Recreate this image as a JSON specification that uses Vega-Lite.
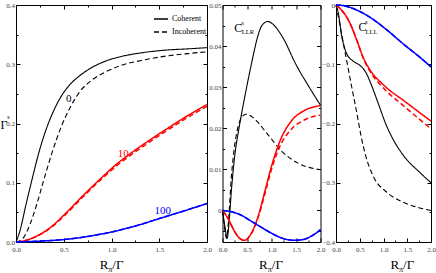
{
"$schema":"https://vega.github.io/schema/vega-lite/v6.json",
"padding":{"left":0,"top":1,"right":0,"bottom":0},
"spacing":15.5,
"bounds":"flush",
"config":{"view":{"stroke":null},"axis":{"grid":false,"domainColor":"#000","domainWidth":1,"tickColor":"#000","tickWidth":1,"labelFont":"Liberation Serif","labelFontSize":7,"labelColor":"#444","labelFlush":false,"labelOverlap":false,"title":null}},
"datasets":{
"curves":[
{"p":"a","c":"0","t":"Coherent","x":0,"y":0},{"p":"a","c":"0","t":"Coherent","x":0.04,"y":0.018},{"p":"a","c":"0","t":"Coherent","x":0.1,"y":0.06},{"p":"a","c":"0","t":"Coherent","x":0.164,"y":0.103},{"p":"a","c":"0","t":"Coherent","x":0.25,"y":0.157},{"p":"a","c":"0","t":"Coherent","x":0.32,"y":0.192},{"p":"a","c":"0","t":"Coherent","x":0.39,"y":0.22},{"p":"a","c":"0","t":"Coherent","x":0.47,"y":0.245},{"p":"a","c":"0","t":"Coherent","x":0.55,"y":0.263},{"p":"a","c":"0","t":"Coherent","x":0.67,"y":0.281},{"p":"a","c":"0","t":"Coherent","x":0.8,"y":0.295},{"p":"a","c":"0","t":"Coherent","x":0.95,"y":0.306},{"p":"a","c":"0","t":"Coherent","x":1.1,"y":0.313},{"p":"a","c":"0","t":"Coherent","x":1.3,"y":0.319},{"p":"a","c":"0","t":"Coherent","x":1.58,"y":0.324},{"p":"a","c":"0","t":"Coherent","x":1.8,"y":0.326},{"p":"a","c":"0","t":"Coherent","x":2,"y":0.328},
{"p":"a","c":"0","t":"Incoherent","x":0,"y":0},{"p":"a","c":"0","t":"Incoherent","x":0.04,"y":0.002},{"p":"a","c":"0","t":"Incoherent","x":0.076,"y":0.007},{"p":"a","c":"0","t":"Incoherent","x":0.147,"y":0.03},{"p":"a","c":"0","t":"Incoherent","x":0.22,"y":0.065},{"p":"a","c":"0","t":"Incoherent","x":0.286,"y":0.102},{"p":"a","c":"0","t":"Incoherent","x":0.38,"y":0.152},{"p":"a","c":"0","t":"Incoherent","x":0.47,"y":0.193},{"p":"a","c":"0","t":"Incoherent","x":0.57,"y":0.228},{"p":"a","c":"0","t":"Incoherent","x":0.67,"y":0.254},{"p":"a","c":"0","t":"Incoherent","x":0.8,"y":0.274},{"p":"a","c":"0","t":"Incoherent","x":0.95,"y":0.288},{"p":"a","c":"0","t":"Incoherent","x":1.1,"y":0.298},{"p":"a","c":"0","t":"Incoherent","x":1.3,"y":0.306},{"p":"a","c":"0","t":"Incoherent","x":1.58,"y":0.314},{"p":"a","c":"0","t":"Incoherent","x":1.8,"y":0.318},{"p":"a","c":"0","t":"Incoherent","x":2,"y":0.321},
{"p":"a","c":"10","t":"Coherent","x":0,"y":0},{"p":"a","c":"10","t":"Coherent","x":0.1,"y":0.0025},{"p":"a","c":"10","t":"Coherent","x":0.18,"y":0.0073},{"p":"a","c":"10","t":"Coherent","x":0.356,"y":0.024},{"p":"a","c":"10","t":"Coherent","x":0.53,"y":0.05},{"p":"a","c":"10","t":"Coherent","x":0.7,"y":0.078},{"p":"a","c":"10","t":"Coherent","x":0.88,"y":0.106},{"p":"a","c":"10","t":"Coherent","x":1.05,"y":0.131},{"p":"a","c":"10","t":"Coherent","x":1.23,"y":0.153},{"p":"a","c":"10","t":"Coherent","x":1.4,"y":0.172},{"p":"a","c":"10","t":"Coherent","x":1.58,"y":0.191},{"p":"a","c":"10","t":"Coherent","x":1.79,"y":0.2125},{"p":"a","c":"10","t":"Coherent","x":2,"y":0.232},
{"p":"a","c":"10","t":"Incoherent","x":0,"y":0},{"p":"a","c":"10","t":"Incoherent","x":0.1,"y":0.0025},{"p":"a","c":"10","t":"Incoherent","x":0.18,"y":0.007},{"p":"a","c":"10","t":"Incoherent","x":0.356,"y":0.023},{"p":"a","c":"10","t":"Incoherent","x":0.53,"y":0.048},{"p":"a","c":"10","t":"Incoherent","x":0.7,"y":0.076},{"p":"a","c":"10","t":"Incoherent","x":0.88,"y":0.104},{"p":"a","c":"10","t":"Incoherent","x":1.05,"y":0.128},{"p":"a","c":"10","t":"Incoherent","x":1.23,"y":0.15},{"p":"a","c":"10","t":"Incoherent","x":1.4,"y":0.169},{"p":"a","c":"10","t":"Incoherent","x":1.58,"y":0.188},{"p":"a","c":"10","t":"Incoherent","x":1.79,"y":0.2095},{"p":"a","c":"10","t":"Incoherent","x":2,"y":0.229},
{"p":"a","c":"100","t":"Coherent","x":0,"y":0},{"p":"a","c":"100","t":"Coherent","x":0.25,"y":0.0015},{"p":"a","c":"100","t":"Coherent","x":0.53,"y":0.0046},{"p":"a","c":"100","t":"Coherent","x":0.88,"y":0.013},{"p":"a","c":"100","t":"Coherent","x":1.05,"y":0.0186},{"p":"a","c":"100","t":"Coherent","x":1.25,"y":0.027},{"p":"a","c":"100","t":"Coherent","x":1.51,"y":0.04},{"p":"a","c":"100","t":"Coherent","x":1.75,"y":0.052},{"p":"a","c":"100","t":"Coherent","x":2,"y":0.065},
{"p":"a","c":"100","t":"Incoherent","x":0,"y":0},{"p":"a","c":"100","t":"Incoherent","x":0.25,"y":0.0015},{"p":"a","c":"100","t":"Incoherent","x":0.53,"y":0.0046},{"p":"a","c":"100","t":"Incoherent","x":0.88,"y":0.013},{"p":"a","c":"100","t":"Incoherent","x":1.05,"y":0.0186},{"p":"a","c":"100","t":"Incoherent","x":1.25,"y":0.027},{"p":"a","c":"100","t":"Incoherent","x":1.51,"y":0.04},{"p":"a","c":"100","t":"Incoherent","x":1.75,"y":0.052},{"p":"a","c":"100","t":"Incoherent","x":2,"y":0.065},
{"p":"b","c":"0","t":"Coherent","x":0,"y":0},{"p":"b","c":"0","t":"Coherent","x":0.05,"y":-0.004},{"p":"b","c":"0","t":"Coherent","x":0.095,"y":-0.0068},{"p":"b","c":"0","t":"Coherent","x":0.14,"y":-0.002},{"p":"b","c":"0","t":"Coherent","x":0.18,"y":0.0046},{"p":"b","c":"0","t":"Coherent","x":0.245,"y":0.0128},{"p":"b","c":"0","t":"Coherent","x":0.35,"y":0.0209},{"p":"b","c":"0","t":"Coherent","x":0.48,"y":0.0292},{"p":"b","c":"0","t":"Coherent","x":0.6,"y":0.0362},{"p":"b","c":"0","t":"Coherent","x":0.7,"y":0.0415},{"p":"b","c":"0","t":"Coherent","x":0.78,"y":0.0445},{"p":"b","c":"0","t":"Coherent","x":0.85,"y":0.0456},{"p":"b","c":"0","t":"Coherent","x":0.92,"y":0.046},{"p":"b","c":"0","t":"Coherent","x":1.0,"y":0.0456},{"p":"b","c":"0","t":"Coherent","x":1.1,"y":0.0444},{"p":"b","c":"0","t":"Coherent","x":1.23,"y":0.0421},{"p":"b","c":"0","t":"Coherent","x":1.5,"y":0.0355},{"p":"b","c":"0","t":"Coherent","x":1.78,"y":0.0298},{"p":"b","c":"0","t":"Coherent","x":2,"y":0.0256},
{"p":"b","c":"0","t":"Incoherent","x":0,"y":0},{"p":"b","c":"0","t":"Incoherent","x":0.04,"y":-0.004},{"p":"b","c":"0","t":"Incoherent","x":0.08,"y":-0.0068},{"p":"b","c":"0","t":"Incoherent","x":0.12,"y":-0.003},{"p":"b","c":"0","t":"Incoherent","x":0.18,"y":0.008},{"p":"b","c":"0","t":"Incoherent","x":0.25,"y":0.016},{"p":"b","c":"0","t":"Incoherent","x":0.31,"y":0.02},{"p":"b","c":"0","t":"Incoherent","x":0.4,"y":0.0228},{"p":"b","c":"0","t":"Incoherent","x":0.48,"y":0.0234},{"p":"b","c":"0","t":"Incoherent","x":0.6,"y":0.0228},{"p":"b","c":"0","t":"Incoherent","x":0.72,"y":0.0215},{"p":"b","c":"0","t":"Incoherent","x":0.85,"y":0.0196},{"p":"b","c":"0","t":"Incoherent","x":0.99,"y":0.0175},{"p":"b","c":"0","t":"Incoherent","x":1.2,"y":0.0145},{"p":"b","c":"0","t":"Incoherent","x":1.54,"y":0.0115},{"p":"b","c":"0","t":"Incoherent","x":2,"y":0.0099},
{"p":"b","c":"10","t":"Coherent","x":0,"y":0},{"p":"b","c":"10","t":"Coherent","x":0.11,"y":-0.0019},{"p":"b","c":"10","t":"Coherent","x":0.245,"y":-0.0051},{"p":"b","c":"10","t":"Coherent","x":0.35,"y":-0.0068},{"p":"b","c":"10","t":"Coherent","x":0.45,"y":-0.0073},{"p":"b","c":"10","t":"Coherent","x":0.55,"y":-0.0063},{"p":"b","c":"10","t":"Coherent","x":0.72,"y":-0.0017},{"p":"b","c":"10","t":"Coherent","x":0.86,"y":0.0044},{"p":"b","c":"10","t":"Coherent","x":0.99,"y":0.0103},{"p":"b","c":"10","t":"Coherent","x":1.16,"y":0.0165},{"p":"b","c":"10","t":"Coherent","x":1.4,"y":0.0217},{"p":"b","c":"10","t":"Coherent","x":1.67,"y":0.0243},{"p":"b","c":"10","t":"Coherent","x":2,"y":0.0255},
{"p":"b","c":"10","t":"Incoherent","x":0,"y":0},{"p":"b","c":"10","t":"Incoherent","x":0.11,"y":-0.0019},{"p":"b","c":"10","t":"Incoherent","x":0.245,"y":-0.0051},{"p":"b","c":"10","t":"Incoherent","x":0.35,"y":-0.0068},{"p":"b","c":"10","t":"Incoherent","x":0.45,"y":-0.0073},{"p":"b","c":"10","t":"Incoherent","x":0.55,"y":-0.0064},{"p":"b","c":"10","t":"Incoherent","x":0.72,"y":-0.002},{"p":"b","c":"10","t":"Incoherent","x":0.86,"y":0.0038},{"p":"b","c":"10","t":"Incoherent","x":0.99,"y":0.0096},{"p":"b","c":"10","t":"Incoherent","x":1.16,"y":0.0153},{"p":"b","c":"10","t":"Incoherent","x":1.4,"y":0.0197},{"p":"b","c":"10","t":"Incoherent","x":1.67,"y":0.022},{"p":"b","c":"10","t":"Incoherent","x":2,"y":0.0232},
{"p":"b","c":"100","t":"Coherent","x":0,"y":0},{"p":"b","c":"100","t":"Coherent","x":0.31,"y":-0.0008},{"p":"b","c":"100","t":"Coherent","x":0.65,"y":-0.0031},{"p":"b","c":"100","t":"Coherent","x":0.99,"y":-0.0055},{"p":"b","c":"100","t":"Coherent","x":1.2,"y":-0.0067},{"p":"b","c":"100","t":"Coherent","x":1.47,"y":-0.0073},{"p":"b","c":"100","t":"Coherent","x":1.65,"y":-0.0071},{"p":"b","c":"100","t":"Coherent","x":1.81,"y":-0.0063},{"p":"b","c":"100","t":"Coherent","x":2,"y":-0.0047},
{"p":"b","c":"100","t":"Incoherent","x":0,"y":0},{"p":"b","c":"100","t":"Incoherent","x":0.31,"y":-0.0008},{"p":"b","c":"100","t":"Incoherent","x":0.65,"y":-0.0031},{"p":"b","c":"100","t":"Incoherent","x":0.99,"y":-0.0055},{"p":"b","c":"100","t":"Incoherent","x":1.2,"y":-0.0067},{"p":"b","c":"100","t":"Incoherent","x":1.47,"y":-0.0073},{"p":"b","c":"100","t":"Incoherent","x":1.65,"y":-0.0071},{"p":"b","c":"100","t":"Incoherent","x":1.81,"y":-0.0063},{"p":"b","c":"100","t":"Incoherent","x":2,"y":-0.0047},
{"p":"c","c":"0","t":"Coherent","x":0,"y":0},{"p":"c","c":"0","t":"Coherent","x":0.05,"y":-0.014},{"p":"c","c":"0","t":"Coherent","x":0.12,"y":-0.052},{"p":"c","c":"0","t":"Coherent","x":0.225,"y":-0.082},{"p":"c","c":"0","t":"Coherent","x":0.365,"y":-0.095},{"p":"c","c":"0","t":"Coherent","x":0.505,"y":-0.102},{"p":"c","c":"0","t":"Coherent","x":0.63,"y":-0.114},{"p":"c","c":"0","t":"Coherent","x":0.75,"y":-0.136},{"p":"c","c":"0","t":"Coherent","x":0.88,"y":-0.164},{"p":"c","c":"0","t":"Coherent","x":1.07,"y":-0.205},{"p":"c","c":"0","t":"Coherent","x":1.21,"y":-0.228},{"p":"c","c":"0","t":"Coherent","x":1.42,"y":-0.254},{"p":"c","c":"0","t":"Coherent","x":1.77,"y":-0.283},{"p":"c","c":"0","t":"Coherent","x":2,"y":-0.3},
{"p":"c","c":"0","t":"Incoherent","x":0,"y":0},{"p":"c","c":"0","t":"Incoherent","x":0.05,"y":-0.02},{"p":"c","c":"0","t":"Incoherent","x":0.12,"y":-0.05},{"p":"c","c":"0","t":"Incoherent","x":0.225,"y":-0.094},{"p":"c","c":"0","t":"Incoherent","x":0.33,"y":-0.138},{"p":"c","c":"0","t":"Incoherent","x":0.44,"y":-0.183},{"p":"c","c":"0","t":"Incoherent","x":0.53,"y":-0.222},{"p":"c","c":"0","t":"Incoherent","x":0.62,"y":-0.253},{"p":"c","c":"0","t":"Incoherent","x":0.79,"y":-0.29},{"p":"c","c":"0","t":"Incoherent","x":1.07,"y":-0.316},{"p":"c","c":"0","t":"Incoherent","x":1.42,"y":-0.333},{"p":"c","c":"0","t":"Incoherent","x":1.7,"y":-0.341},{"p":"c","c":"0","t":"Incoherent","x":2,"y":-0.347},
{"p":"c","c":"10","t":"Coherent","x":0,"y":0},{"p":"c","c":"10","t":"Coherent","x":0.084,"y":-0.006},{"p":"c","c":"10","t":"Coherent","x":0.18,"y":-0.015},{"p":"c","c":"10","t":"Coherent","x":0.29,"y":-0.03},{"p":"c","c":"10","t":"Coherent","x":0.44,"y":-0.06},{"p":"c","c":"10","t":"Coherent","x":0.57,"y":-0.088},{"p":"c","c":"10","t":"Coherent","x":0.68,"y":-0.105},{"p":"c","c":"10","t":"Coherent","x":0.79,"y":-0.118},{"p":"c","c":"10","t":"Coherent","x":0.95,"y":-0.131},{"p":"c","c":"10","t":"Coherent","x":1.07,"y":-0.14},{"p":"c","c":"10","t":"Coherent","x":1.42,"y":-0.161},{"p":"c","c":"10","t":"Coherent","x":1.7,"y":-0.178},{"p":"c","c":"10","t":"Coherent","x":2,"y":-0.196},
{"p":"c","c":"10","t":"Incoherent","x":0,"y":0},{"p":"c","c":"10","t":"Incoherent","x":0.084,"y":-0.006},{"p":"c","c":"10","t":"Incoherent","x":0.18,"y":-0.015},{"p":"c","c":"10","t":"Incoherent","x":0.29,"y":-0.03},{"p":"c","c":"10","t":"Incoherent","x":0.44,"y":-0.06},{"p":"c","c":"10","t":"Incoherent","x":0.57,"y":-0.089},{"p":"c","c":"10","t":"Incoherent","x":0.68,"y":-0.107},{"p":"c","c":"10","t":"Incoherent","x":0.79,"y":-0.121},{"p":"c","c":"10","t":"Incoherent","x":0.95,"y":-0.136},{"p":"c","c":"10","t":"Incoherent","x":1.07,"y":-0.146},{"p":"c","c":"10","t":"Incoherent","x":1.42,"y":-0.17},{"p":"c","c":"10","t":"Incoherent","x":1.7,"y":-0.189},{"p":"c","c":"10","t":"Incoherent","x":2,"y":-0.209},
{"p":"c","c":"100","t":"Coherent","x":0,"y":0},{"p":"c","c":"100","t":"Coherent","x":0.15,"y":-0.001},{"p":"c","c":"100","t":"Coherent","x":0.36,"y":-0.006},{"p":"c","c":"100","t":"Coherent","x":0.72,"y":-0.021},{"p":"c","c":"100","t":"Coherent","x":1.07,"y":-0.042},{"p":"c","c":"100","t":"Coherent","x":1.42,"y":-0.066},{"p":"c","c":"100","t":"Coherent","x":1.77,"y":-0.0885},{"p":"c","c":"100","t":"Coherent","x":2,"y":-0.1045},
{"p":"c","c":"100","t":"Incoherent","x":0,"y":0},{"p":"c","c":"100","t":"Incoherent","x":0.15,"y":-0.001},{"p":"c","c":"100","t":"Incoherent","x":0.36,"y":-0.006},{"p":"c","c":"100","t":"Incoherent","x":0.72,"y":-0.021},{"p":"c","c":"100","t":"Incoherent","x":1.07,"y":-0.042},{"p":"c","c":"100","t":"Incoherent","x":1.42,"y":-0.066},{"p":"c","c":"100","t":"Incoherent","x":1.77,"y":-0.0885},{"p":"c","c":"100","t":"Incoherent","x":2,"y":-0.1045}
],
"ann":[
{"p":"a","k":"num","c":"0","text":"0","x":0.553,"y":0.242},
{"p":"a","k":"num","c":"10","text":"10","x":1.124,"y":0.1486},
{"p":"a","k":"num","c":"100","text":"100","x":1.536,"y":0.0517},
{"p":"a","k":"main","text":"Γ","x":-0.126,"y":0.198},
{"p":"a","k":"sup","text":"s","x":-0.079,"y":0.211},
{"p":"a","k":"xt","x":0.993,"y":0},
{"p":"b","k":"main","text":"C","x":0.32,"y":0.0445},
{"p":"b","k":"sup","text":"s","x":0.41,"y":0.0455},
{"p":"b","k":"sub","text":"LLR","x":0.394,"y":0.0434},
{"p":"b","k":"xt","x":0.975,"y":-0.0077},
{"p":"c","k":"main","text":"C","x":0.56,"y":-0.037},
{"p":"c","k":"sup","text":"s","x":0.64,"y":-0.028},
{"p":"c","k":"sub","text":"LLL","x":0.62,"y":-0.046},
{"p":"c","k":"xt","x":1.38,"y":-0.4}
]
},
"hconcat":[
{"width":191,"height":237,
"resolve":{"axis":{"x":"independent","y":"independent"}},
"layer":[
{"data":{"name":"curves"},"transform":[{"filter":"datum.p==='a'"}],
"mark":{"type":"line","interpolate":"monotone"},
"encoding":{
"x":{"field":"x","type":"quantitative","scale":{"domain":[0,2],"nice":false,"zero":false},"axis":{"orient":"bottom","values":[0,0.25,0.5,0.75,1,1.25,1.5,1.75,2],"labelExpr":"abs(datum.value*2-round(datum.value*2))<1e-6 ? format(datum.value,'.1f') : ''","tickSize":{"condition":{"test":"abs(datum.value*2-round(datum.value*2))<1e-6","value":-4},"value":-2},"labelPadding":7}},
"y":{"field":"y","type":"quantitative","scale":{"domain":[0,0.4],"nice":false,"zero":false},"axis":{"orient":"left","values":[0,0.05,0.1,0.15,0.2,0.25,0.3,0.35,0.4],"labelExpr":"abs(datum.value*10-round(datum.value*10))<1e-6 ? format(datum.value,'.1f') : ''","tickSize":{"condition":{"test":"abs(datum.value*10-round(datum.value*10))<1e-6","value":-4},"value":-2},"labelPadding":5.5}},
"color":{"field":"c","type":"nominal","scale":{"domain":["0","10","100"],"range":["#000000","#ff0000","#0000ff"]},"legend":null},
"strokeDash":{"field":"t","type":"nominal","scale":{"domain":["Coherent","Incoherent"],"range":[[1,0],[5,3]]},"legend":{"orient":"none","legendX":137,"legendY":6,"title":null,"symbolType":"stroke","symbolSize":196,"symbolStrokeColor":"#000","symbolStrokeWidth":1.5,"labelFont":"Liberation Serif","labelFontSize":8,"labelColor":"#000","rowPadding":1,"padding":0,"labelOffset":3}},
"strokeWidth":{"condition":{"test":"datum.c==='0'","value":1.1},"value":1.5}
}},
{"data":{"name":"ann"},"transform":[{"filter":"datum.p==='a' && datum.k==='xt'"}],
"mark":{"type":"text","text":"R","align":"right","baseline":"alphabetic","dx":-2.5,"dy":27,"font":"Liberation Serif","fontSize":13,"color":"#000"},
"encoding":{
"x":{"field":"x","type":"quantitative","scale":{"domain":[0,2],"nice":false,"zero":false},"axis":{"orient":"top","values":[0,0.25,0.5,0.75,1,1.25,1.5,1.75,2],"labels":false,"tickSize":{"condition":{"test":"abs(datum.value*2-round(datum.value*2))<1e-6","value":-4},"value":-2}}},
"y":{"field":"y","type":"quantitative","scale":{"domain":[0,0.4],"nice":false,"zero":false},"axis":{"orient":"right","values":[0,0.05,0.1,0.15,0.2,0.25,0.3,0.35,0.4],"labels":false,"tickSize":{"condition":{"test":"abs(datum.value*10-round(datum.value*10))<1e-6","value":-4},"value":-2}}}
}},
{"data":{"name":"ann"},"transform":[{"filter":"datum.p==='a' && datum.k==='xt'"}],
"mark":{"type":"text","text":"π","align":"left","baseline":"alphabetic","dx":-2.5,"dy":30,"font":"Liberation Serif","fontSize":8,"color":"#000"},
"encoding":{"x":{"field":"x","type":"quantitative","scale":{"domain":[0,2],"nice":false,"zero":false},"axis":null},"y":{"field":"y","type":"quantitative","scale":{"domain":[0,0.4],"nice":false,"zero":false},"axis":null}}},
{"data":{"name":"ann"},"transform":[{"filter":"datum.p==='a' && datum.k==='xt'"}],
"mark":{"type":"text","text":"/Γ","align":"left","baseline":"alphabetic","dx":1.5,"dy":27,"font":"Liberation Serif","fontSize":13,"color":"#000"},
"encoding":{"x":{"field":"x","type":"quantitative","scale":{"domain":[0,2],"nice":false,"zero":false},"axis":null},"y":{"field":"y","type":"quantitative","scale":{"domain":[0,0.4],"nice":false,"zero":false},"axis":null}}},
{"data":{"name":"ann"},"transform":[{"filter":"datum.p==='a' && datum.k==='num'"}],
"mark":{"type":"text","align":"center","baseline":"middle","font":"Liberation Serif","fontSize":11},
"encoding":{"x":{"field":"x","type":"quantitative","scale":{"domain":[0,2],"nice":false,"zero":false},"axis":null},"y":{"field":"y","type":"quantitative","scale":{"domain":[0,0.4],"nice":false,"zero":false},"axis":null},"text":{"field":"text"},"color":{"field":"c","type":"nominal","scale":{"domain":["0","10","100"],"range":["#000000","#ff0000","#0000ff"]},"legend":null}}},
{"data":{"name":"ann"},"transform":[{"filter":"datum.p==='a' && datum.k==='main'"}],
"mark":{"type":"text","align":"center","baseline":"middle","font":"Liberation Serif","fontSize":12,"color":"#000"},
"encoding":{"x":{"field":"x","type":"quantitative","scale":{"domain":[0,2],"nice":false,"zero":false},"axis":null},"y":{"field":"y","type":"quantitative","scale":{"domain":[0,0.4],"nice":false,"zero":false},"axis":null},"text":{"field":"text"}}},
{"data":{"name":"ann"},"transform":[{"filter":"datum.p==='a' && datum.k==='sup'"}],
"mark":{"type":"text","align":"center","baseline":"middle","font":"Liberation Serif","fontSize":6,"color":"#000"},
"encoding":{"x":{"field":"x","type":"quantitative","scale":{"domain":[0,2],"nice":false,"zero":false},"axis":null},"y":{"field":"y","type":"quantitative","scale":{"domain":[0,0.4],"nice":false,"zero":false},"axis":null},"text":{"field":"text"}}}
]},
{"width":98,"height":237,
"resolve":{"axis":{"x":"independent","y":"independent"}},
"layer":[
{"data":{"name":"curves"},"transform":[{"filter":"datum.p==='b'"}],
"mark":{"type":"line","interpolate":"monotone"},
"encoding":{
"x":{"field":"x","type":"quantitative","scale":{"domain":[0,2],"nice":false,"zero":false},"axis":{"orient":"bottom","values":[0,0.25,0.5,0.75,1,1.25,1.5,1.75,2],"labelExpr":"abs(datum.value*2-round(datum.value*2))<1e-6 ? format(datum.value,'.1f') : ''","tickSize":{"condition":{"test":"abs(datum.value*2-round(datum.value*2))<1e-6","value":-4},"value":-2},"labelPadding":7}},
"y":{"field":"y","type":"quantitative","scale":{"domain":[-0.0077,0.05],"nice":false,"zero":false},"axis":{"orient":"left","values":[-0.005,0,0.005,0.01,0.015,0.02,0.025,0.03,0.035,0.04,0.045,0.05],"labelExpr":"abs(datum.value*100-round(datum.value*100))<1e-6 ? (abs(datum.value)<1e-9 ? '0' : format(datum.value,'.2f')) : ''","tickSize":{"condition":{"test":"abs(datum.value*100-round(datum.value*100))<1e-6","value":-4},"value":-2},"labelPadding":5.5}},
"color":{"field":"c","type":"nominal","scale":{"domain":["0","10","100"],"range":["#000000","#ff0000","#0000ff"]},"legend":null},
"strokeDash":{"field":"t","type":"nominal","scale":{"domain":["Coherent","Incoherent"],"range":[[1,0],[5,3]]},"legend":null},
"strokeWidth":{"condition":{"test":"datum.c==='0'","value":1.1},"value":1.5}
}},
{"data":{"name":"ann"},"transform":[{"filter":"datum.p==='b' && datum.k==='xt'"}],
"mark":{"type":"text","text":"R","align":"right","baseline":"alphabetic","dx":-2.5,"dy":27,"font":"Liberation Serif","fontSize":13,"color":"#000"},
"encoding":{
"x":{"field":"x","type":"quantitative","scale":{"domain":[0,2],"nice":false,"zero":false},"axis":{"orient":"top","values":[0,0.25,0.5,0.75,1,1.25,1.5,1.75,2],"labels":false,"tickSize":{"condition":{"test":"abs(datum.value*2-round(datum.value*2))<1e-6","value":-4},"value":-2}}},
"y":{"field":"y","type":"quantitative","scale":{"domain":[-0.0077,0.05],"nice":false,"zero":false},"axis":{"orient":"right","values":[-0.005,0,0.005,0.01,0.015,0.02,0.025,0.03,0.035,0.04,0.045,0.05],"labels":false,"tickSize":{"condition":{"test":"abs(datum.value*100-round(datum.value*100))<1e-6","value":-4},"value":-2}}}
}},
{"data":{"name":"ann"},"transform":[{"filter":"datum.p==='b' && datum.k==='xt'"}],
"mark":{"type":"text","text":"π","align":"left","baseline":"alphabetic","dx":-2.5,"dy":30,"font":"Liberation Serif","fontSize":8,"color":"#000"},
"encoding":{"x":{"field":"x","type":"quantitative","scale":{"domain":[0,2],"nice":false,"zero":false},"axis":null},"y":{"field":"y","type":"quantitative","scale":{"domain":[-0.0077,0.05],"nice":false,"zero":false},"axis":null}}},
{"data":{"name":"ann"},"transform":[{"filter":"datum.p==='b' && datum.k==='xt'"}],
"mark":{"type":"text","text":"/Γ","align":"left","baseline":"alphabetic","dx":1.5,"dy":27,"font":"Liberation Serif","fontSize":13,"color":"#000"},
"encoding":{"x":{"field":"x","type":"quantitative","scale":{"domain":[0,2],"nice":false,"zero":false},"axis":null},"y":{"field":"y","type":"quantitative","scale":{"domain":[-0.0077,0.05],"nice":false,"zero":false},"axis":null}}},
{"data":{"name":"ann"},"transform":[{"filter":"datum.p==='b' && datum.k==='main'"}],
"mark":{"type":"text","align":"center","baseline":"middle","font":"Liberation Serif","fontSize":12,"color":"#000"},
"encoding":{"x":{"field":"x","type":"quantitative","scale":{"domain":[0,2],"nice":false,"zero":false},"axis":null},"y":{"field":"y","type":"quantitative","scale":{"domain":[-0.0077,0.05],"nice":false,"zero":false},"axis":null},"text":{"field":"text"}}},
{"data":{"name":"ann"},"transform":[{"filter":"datum.p==='b' && datum.k==='sup'"}],
"mark":{"type":"text","align":"center","baseline":"middle","font":"Liberation Serif","fontSize":6,"color":"#000"},
"encoding":{"x":{"field":"x","type":"quantitative","scale":{"domain":[0,2],"nice":false,"zero":false},"axis":null},"y":{"field":"y","type":"quantitative","scale":{"domain":[-0.0077,0.05],"nice":false,"zero":false},"axis":null},"text":{"field":"text"}}},
{"data":{"name":"ann"},"transform":[{"filter":"datum.p==='b' && datum.k==='sub'"}],
"mark":{"type":"text","align":"left","baseline":"middle","font":"Liberation Serif","fontSize":6.5,"color":"#000"},
"encoding":{"x":{"field":"x","type":"quantitative","scale":{"domain":[0,2],"nice":false,"zero":false},"axis":null},"y":{"field":"y","type":"quantitative","scale":{"domain":[-0.0077,0.05],"nice":false,"zero":false},"axis":null},"text":{"field":"text"}}}
]},
{"width":95,"height":237,
"resolve":{"axis":{"x":"independent","y":"independent"}},
"layer":[
{"data":{"name":"curves"},"transform":[{"filter":"datum.p==='c'"}],
"mark":{"type":"line","interpolate":"monotone"},
"encoding":{
"x":{"field":"x","type":"quantitative","scale":{"domain":[0,2],"nice":false,"zero":false},"axis":{"orient":"bottom","values":[0,0.25,0.5,0.75,1,1.25,1.5,1.75,2],"labelExpr":"abs(datum.value*2-round(datum.value*2))<1e-6 ? format(datum.value,'.1f') : ''","tickSize":{"condition":{"test":"abs(datum.value*2-round(datum.value*2))<1e-6","value":-4},"value":-2},"labelPadding":7}},
"y":{"field":"y","type":"quantitative","scale":{"domain":[-0.4,0],"nice":false,"zero":false},"axis":{"orient":"left","values":[-0.4,-0.35,-0.3,-0.25,-0.2,-0.15,-0.1,-0.05,0],"labelExpr":"abs(datum.value*10-round(datum.value*10))<1e-6 ? (abs(datum.value)<1e-9 ? '0' : format(datum.value,'.1f')) : ''","tickSize":{"condition":{"test":"abs(datum.value*10-round(datum.value*10))<1e-6","value":-4},"value":-2},"labelPadding":5.5}},
"color":{"field":"c","type":"nominal","scale":{"domain":["0","10","100"],"range":["#000000","#ff0000","#0000ff"]},"legend":null},
"strokeDash":{"field":"t","type":"nominal","scale":{"domain":["Coherent","Incoherent"],"range":[[1,0],[5,3]]},"legend":null},
"strokeWidth":{"condition":{"test":"datum.c==='0'","value":1.1},"value":1.5}
}},
{"data":{"name":"ann"},"transform":[{"filter":"datum.p==='c' && datum.k==='xt'"}],
"mark":{"type":"text","text":"R","align":"right","baseline":"alphabetic","dx":-2.5,"dy":27,"font":"Liberation Serif","fontSize":13,"color":"#000"},
"encoding":{
"x":{"field":"x","type":"quantitative","scale":{"domain":[0,2],"nice":false,"zero":false},"axis":{"orient":"top","values":[0,0.25,0.5,0.75,1,1.25,1.5,1.75,2],"labels":false,"tickSize":{"condition":{"test":"abs(datum.value*2-round(datum.value*2))<1e-6","value":-4},"value":-2}}},
"y":{"field":"y","type":"quantitative","scale":{"domain":[-0.4,0],"nice":false,"zero":false},"axis":{"orient":"right","values":[-0.4,-0.35,-0.3,-0.25,-0.2,-0.15,-0.1,-0.05,0],"labels":false,"tickSize":{"condition":{"test":"abs(datum.value*10-round(datum.value*10))<1e-6","value":-4},"value":-2}}}
}},
{"data":{"name":"ann"},"transform":[{"filter":"datum.p==='c' && datum.k==='xt'"}],
"mark":{"type":"text","text":"π","align":"left","baseline":"alphabetic","dx":-2.5,"dy":30,"font":"Liberation Serif","fontSize":8,"color":"#000"},
"encoding":{"x":{"field":"x","type":"quantitative","scale":{"domain":[0,2],"nice":false,"zero":false},"axis":null},"y":{"field":"y","type":"quantitative","scale":{"domain":[-0.4,0],"nice":false,"zero":false},"axis":null}}},
{"data":{"name":"ann"},"transform":[{"filter":"datum.p==='c' && datum.k==='xt'"}],
"mark":{"type":"text","text":"/Γ","align":"left","baseline":"alphabetic","dx":1.5,"dy":27,"font":"Liberation Serif","fontSize":13,"color":"#000"},
"encoding":{"x":{"field":"x","type":"quantitative","scale":{"domain":[0,2],"nice":false,"zero":false},"axis":null},"y":{"field":"y","type":"quantitative","scale":{"domain":[-0.4,0],"nice":false,"zero":false},"axis":null}}},
{"data":{"name":"ann"},"transform":[{"filter":"datum.p==='c' && datum.k==='main'"}],
"mark":{"type":"text","align":"center","baseline":"middle","font":"Liberation Serif","fontSize":12,"color":"#000"},
"encoding":{"x":{"field":"x","type":"quantitative","scale":{"domain":[0,2],"nice":false,"zero":false},"axis":null},"y":{"field":"y","type":"quantitative","scale":{"domain":[-0.4,0],"nice":false,"zero":false},"axis":null},"text":{"field":"text"}}},
{"data":{"name":"ann"},"transform":[{"filter":"datum.p==='c' && datum.k==='sup'"}],
"mark":{"type":"text","align":"center","baseline":"middle","font":"Liberation Serif","fontSize":6,"color":"#000"},
"encoding":{"x":{"field":"x","type":"quantitative","scale":{"domain":[0,2],"nice":false,"zero":false},"axis":null},"y":{"field":"y","type":"quantitative","scale":{"domain":[-0.4,0],"nice":false,"zero":false},"axis":null},"text":{"field":"text"}}},
{"data":{"name":"ann"},"transform":[{"filter":"datum.p==='c' && datum.k==='sub'"}],
"mark":{"type":"text","align":"left","baseline":"middle","font":"Liberation Serif","fontSize":6.5,"color":"#000"},
"encoding":{"x":{"field":"x","type":"quantitative","scale":{"domain":[0,2],"nice":false,"zero":false},"axis":null},"y":{"field":"y","type":"quantitative","scale":{"domain":[-0.4,0],"nice":false,"zero":false},"axis":null},"text":{"field":"text"}}}
]}
]
}
